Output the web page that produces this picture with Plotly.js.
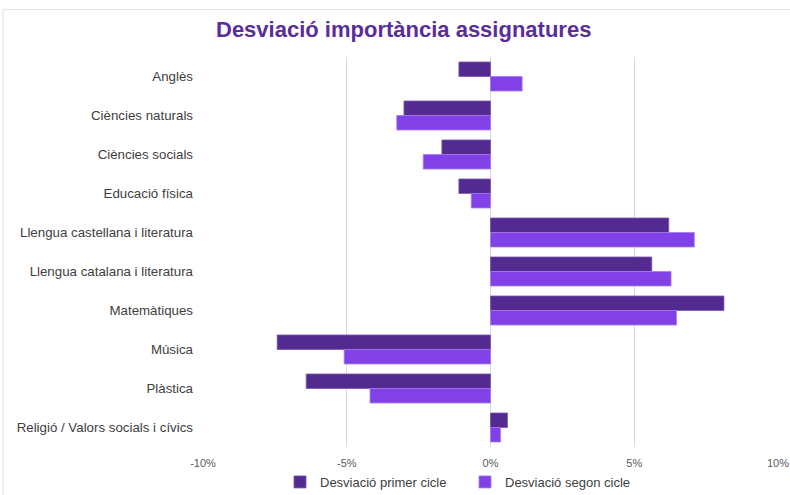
<!DOCTYPE html>
<html>
<head>
<meta charset="utf-8">
<script src="https://cdn.plot.ly/plotly-3.0.1.min.js"></script>
<style>html,body{margin:0;padding:0;background:#fff;}#chart{width:790px;height:495px;}</style>
</head>
<body>
<div id="chart"></div>
<script>
const categories = ["Anglès","Ciències naturals","Ciències socials","Educació física","Llengua castellana i literatura","Llengua catalana i literatura","Matemàtiques","Música","Plàstica","Religió / Valors socials i cívics"];
const primerCicle = [-1.10,-3.01,-1.69,-1.10,6.20,5.61,8.12,-7.42,-6.41,0.59];
const segonCicle = [1.10,-3.26,-2.34,-0.67,7.09,6.28,6.47,-5.09,-4.19,0.35];
const seriesNames = ["Desviació primer cicle","Desviació segon cicle"];
const tickValues = [-10,-5,0,5,10];
const tickLabels = ["-10%","-5%","0%","5%","10%"];

const traces = [
  {type:'bar', orientation:'h', name:seriesNames[0], y:categories, x:primerCicle,
   marker:{color:'#532B90', line:{color:'#7A55B5', width:0.8}}, hoverinfo:'x+y'},
  {type:'bar', orientation:'h', name:seriesNames[1], y:categories, x:segonCicle,
   marker:{color:'#8241E6', line:{color:'#A77BEF', width:0.8}}, hoverinfo:'x+y'}
];
const layout = {
  width:790, height:495,
  margin:{l:203, r:12, t:57, b:48, autoexpand:false},
  paper_bgcolor:'#ffffff', plot_bgcolor:'#ffffff',
  font:{family:'Liberation Sans, Arial, sans-serif', color:'#404040'},
  title:{text:'<b>Desviació importància assignatures</b>', font:{size:22, color:'#5A2D9C', family:'Liberation Sans, Arial, sans-serif'}, x:0.511, xref:'container', xanchor:'center', y:0.94, yref:'container', yanchor:'middle'},
  barmode:'group', bargap:0.256, bargroupgap:0,
  xaxis:{range:[-10,10], tickvals:tickValues, ticktext:tickLabels, showgrid:true, gridcolor:'#D9D9D9', gridwidth:1, zeroline:false, showline:false, ticks:'', tickfont:{size:11, color:'#595959'}, ticklabelstandoff:8, automargin:false},
  yaxis:{autorange:'reversed', showgrid:false, zeroline:false, showline:false, ticks:'', tickfont:{size:13.3, color:'#404040'}, ticklabelstandoff:9, automargin:false},
  showlegend:true,
  legend:{orientation:'h', xref:'container', yref:'container', x:280/790, xanchor:'left', y:13/495, yanchor:'middle', font:{size:13, color:'#404040'}, itemwidth:30, entrywidth:140, entrywidthmode:'pixels', traceorder:'normal'},
  shapes:[{type:'rect', xref:'paper', yref:'paper', x0:-0.348, x1:1.05, y0:-0.2, y1:1.122, line:{color:'#E0E0E0', width:1}, fillcolor:'rgba(0,0,0,0)', layer:'below'}]
};
Plotly.newPlot('chart', traces, layout, {displayModeBar:false, staticPlot:true});
</script>
</body>
</html>
